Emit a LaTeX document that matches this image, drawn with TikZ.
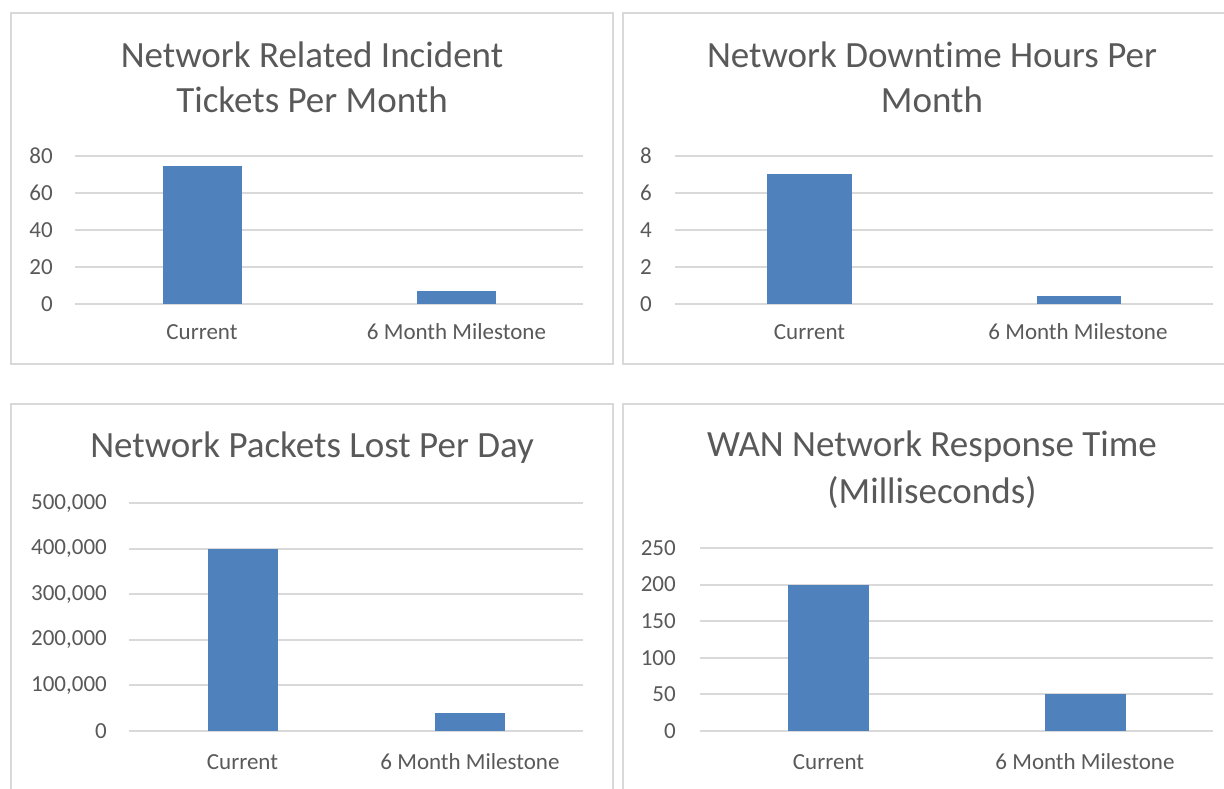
\documentclass[tikz,border=0pt]{standalone}
\usepackage{fontspec}
\setmainfont[Ligatures=NoCommon]{Carlito}
\definecolor{barblue}{HTML}{4F81BD}
\definecolor{txtgray}{HTML}{595959}
\definecolor{gridgray}{HTML}{D9D9D9}
\begin{document}
\begin{tikzpicture}[x=1pt,y=-1pt,
  panel/.style={draw=gridgray,line width=2pt},
  gridline/.style={draw=gridgray,line width=2pt},
  barrect/.style={fill=barblue},
  charttitle/.style={text=txtgray,font=\fontsize{37}{44}\selectfont,inner sep=0pt},
  ticklabel/.style={text=txtgray,font=\fontsize{23}{28}\selectfont,anchor=east,inner sep=0pt},
  catlabel/.style={text=txtgray,font=\fontsize{23}{28}\selectfont,inner sep=0pt}]
\useasboundingbox (0,0) rectangle (1224,788);
\fill[white] (0,0) rectangle (1224,788);

% ---------- Panel 1 ----------
\draw[panel] (11,13) rectangle (613,364);
\node[charttitle] (t1a) at (312,55) {Network Related Incident};
\node[charttitle] (t1b) at (312,100) {Tickets Per Month};
\foreach \v/\y in {0/304,20/267,40/230,60/193,80/156}{
  \draw[gridline] (75,\y) -- (583,\y);
  \node[ticklabel] (p1tick\v) at (53,\y) {\v};
}
\fill[barrect] (162.5,165.5) rectangle (242,304);
\fill[barrect] (417,291) rectangle (496,304);
\node[catlabel] (p1c1) at (202,332) {Current};
\node[catlabel] (p1c2) at (456.5,332) {6 Month Milestone};

% ---------- Panel 2 ----------
\draw[panel] (1230,13) -- (623,13) -- (623,364) -- (1230,364);
\node[charttitle] (t2a) at (932,55) {Network Downt\kern0pt ime Hours Per};
\node[charttitle] (t2b) at (932,100) {Month};
\foreach \v/\y in {0/304,2/267,4/230,6/193,8/156}{
  \draw[gridline] (675,\y) -- (1213,\y);
  \node[ticklabel] (p2tick\v) at (652,\y) {\v};
}
\fill[barrect] (767,173.5) rectangle (852,304);
\fill[barrect] (1037,296) rectangle (1121,304);
\node[catlabel] (p2c1) at (809.5,332) {Current};
\node[catlabel] (p2c2) at (1078,332) {6 Month Milestone};

% ---------- Panel 3 ----------
\draw[panel] (11,795) -- (11,404) -- (613,404) -- (613,795);
\node[charttitle] (t3a) at (312,448) {Network Packets Lost Per Day};
\foreach \y in {731,685.4,639.8,594.2,548.6,503}{
  \draw[gridline] (129,\y) -- (583,\y);
}
\node[ticklabel] (p3tick0) at (107,731) {0};
\node[ticklabel] (p3tick1) at (107,685.4) {100,000};
\node[ticklabel] (p3tick2) at (107,639.8) {200,000};
\node[ticklabel] (p3tick3) at (107,594.2) {300,000};
\node[ticklabel] (p3tick4) at (107,548.6) {400,000};
\node[ticklabel] (p3tick5) at (107,503) {500,000};
\fill[barrect] (207.5,548.6) rectangle (278,731);
\fill[barrect] (435,712.8) rectangle (505,731);
\node[catlabel] (p3c1) at (242.5,762) {Current};
\node[catlabel] (p3c2) at (470,762) {6 Month Milestone};

% ---------- Panel 4 ----------
\draw[panel] (623,795) -- (623,404) -- (1230,404);
\node[charttitle] (t4a) at (932,447) {WAN Network Response Time};
\node[charttitle] (t4b) at (932,493) {(Milliseconds)};
\foreach \v/\y in {0/731,50/694.4,100/657.8,150/621.2,200/584.6,250/548}{
  \draw[gridline] (700,\y) -- (1213,\y);
  \node[ticklabel] (p4tick\v) at (676,\y) {\v};
}
\fill[barrect] (788,584.6) rectangle (869,731);
\fill[barrect] (1045,694.4) rectangle (1126,731);
\node[catlabel] (p4c1) at (828.5,762) {Current};
\node[catlabel] (p4c2) at (1085,762) {6 Month Milestone};
\end{tikzpicture}
\end{document}
